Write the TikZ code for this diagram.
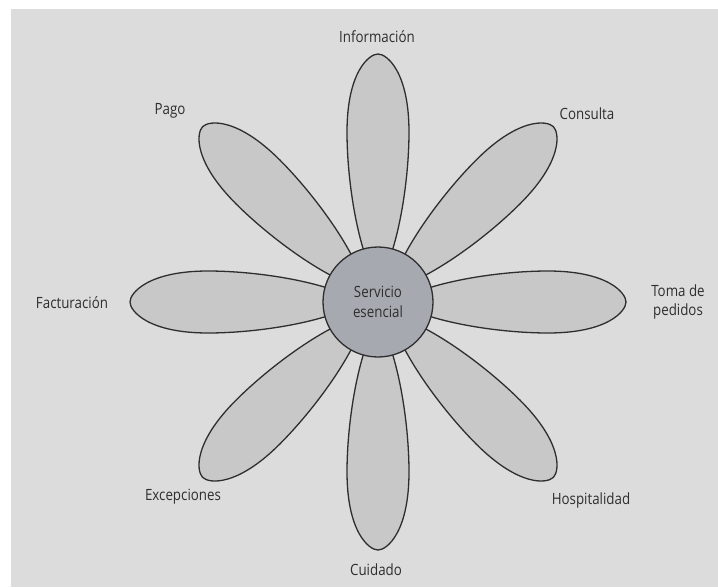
\documentclass[tikz,border=0pt]{standalone}
\usepackage{fontspec}
\setmainfont{Open Sans}[FakeStretch=0.86]
\begin{document}
\begin{tikzpicture}[x=1pt,y=-1pt,
  lbl/.style={font=\fontsize{15.5}{19}\selectfont, text=black!82, inner sep=0pt, align=center},
  petalstyle/.style={draw=black!82, line width=1.3pt, fill=petalgray},
  corestyle/.style={circle, draw=black!82, line width=1.3pt, fill=coregray, minimum size=110pt, inner sep=0pt, align=center, font=\fontsize{15.5}{20}\selectfont, text=black!82}]
\definecolor{bggray}{HTML}{DCDCDC}
\definecolor{petalgray}{HTML}{C8C8C8}
\definecolor{coregray}{HTML}{A6A9B0}
\useasboundingbox (0,0) rectangle (718,587);
\fill[bggray] (11,9) rectangle (718,587);
\coordinate (c) at (378,302);
\foreach \ang in {0,45,...,315}{
  \begin{scope}[shift={(c)}, rotate=\ang]
    \draw[petalstyle] (248,0) .. controls (248,-9) and (230,-31) .. (170,-31)
      .. controls (120,-31) and (50,-20) .. (18,0)
      .. controls (50,20) and (120,31) .. (170,31)
      .. controls (230,31) and (248,9) .. (248,0) -- cycle;
  \end{scope}
}
\node[corestyle] (core) at (c) {Servicio\\esencial};
\node[lbl] (info) at (377,37) {Información};
\node[lbl] (cons) at (587,114) {Consulta};
\node[lbl] (pago) at (170,111) {Pago};
\node[lbl] (toma) at (678,302) {Toma de\\pedidos};
\node[lbl] (fact) at (72,303) {Facturación};
\node[lbl] (exce) at (183,497) {Excepciones};
\node[lbl] (hosp) at (591,500) {Hospitalidad};
\node[lbl] (cuid) at (376,570) {Cuidado};
\end{tikzpicture}
\end{document}
